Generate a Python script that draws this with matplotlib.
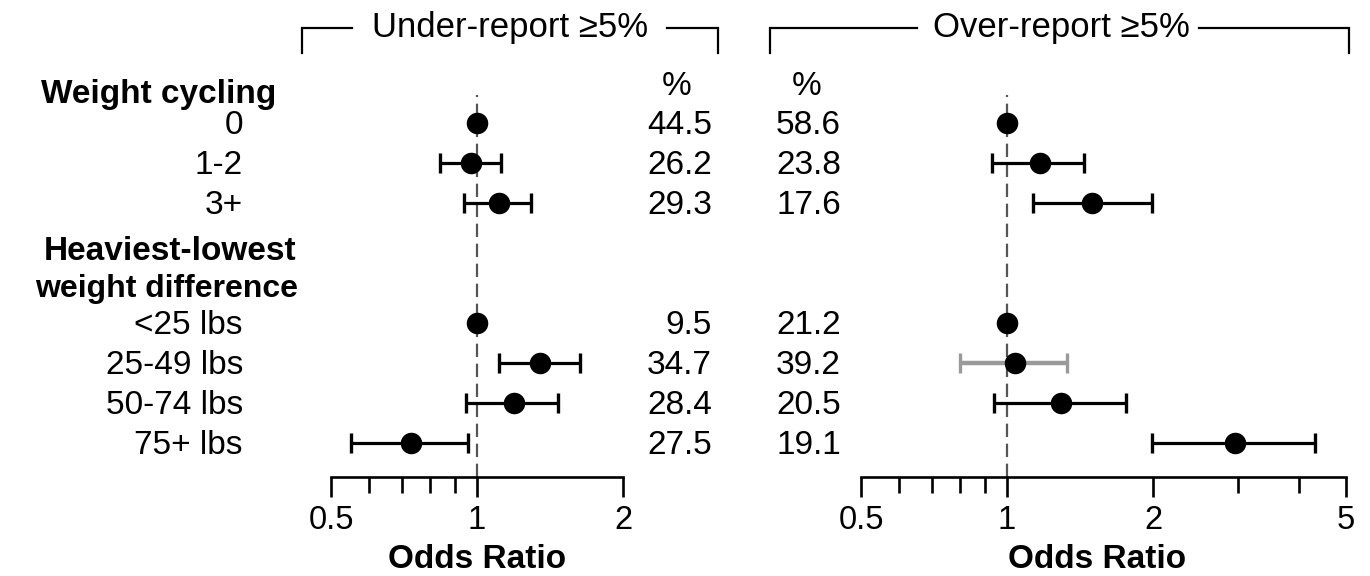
import matplotlib
matplotlib.use("Agg")
import matplotlib.pyplot as plt
import numpy as np
from matplotlib.lines import Line2D

plt.rcParams['font.family'] = ['Liberation Sans', 'DejaVu Sans']

# ---------------- data ----------------
group_titles = ['Weight cycling', 'Heaviest-lowest\nweight difference']
row_labels = ['0', '1-2', '3+', '<25 lbs', '25-49 lbs', '50-74 lbs', '75+ lbs']
row_index = [0, 1, 2, 5, 6, 7, 8]

under_pct = ['44.5', '26.2', '29.3', '9.5', '34.7', '28.4', '27.5']
over_pct = ['58.6', '23.8', '17.6', '21.2', '39.2', '20.5', '19.1']

under_or = [1.00, 0.97, 1.11, 1.00, 1.35, 1.19, 0.73]
under_lo = [np.nan, 0.84, 0.94, np.nan, 1.11, 0.95, 0.55]
under_hi = [np.nan, 1.12, 1.29, np.nan, 1.63, 1.47, 0.96]

over_or = [1.00, 1.17, 1.50, 1.00, 1.04, 1.29, 2.95]
over_lo = [np.nan, 0.93, 1.13, np.nan, 0.80, 0.94, 1.99]
over_hi = [np.nan, 1.44, 1.99, np.nan, 1.33, 1.76, 4.32]

panel_titles = ['Under-report \u22655%', 'Over-report \u22655%']
left_major = [0.5, 1, 2]
left_minor = [0.6, 0.7, 0.8, 0.9]
right_major = [0.5, 1, 2, 5]
right_minor = [0.6, 0.7, 0.8, 0.9, 3, 4]
xlabel = 'Odds Ratio'

# style: which over-report rows have grey CI
over_grey_rows = [4]

# ---------------- layout ----------------
W, H = 1370, 576
fig = plt.figure(figsize=(W / 100, H / 100), dpi=100)

def fx(x):
    return x / W

def fy(y):
    return 1 - y / H

ROW0, ROWSTEP = 123, 40
AX_TOP, AX_BOT = 95, 477

def row_px(r):
    return ROW0 + ROWSTEP * r

ylim = ((AX_BOT - ROW0) / ROWSTEP, (AX_TOP - ROW0) / ROWSTEP)

FS = 24

def make_axis(x0, x1, xmin, xmax, major, minor):
    ax = fig.add_axes([fx(x0), fy(AX_BOT), (x1 - x0) / W, (AX_BOT - AX_TOP) / H])
    ax.set_xscale('log')
    ax.set_xlim(xmin, xmax)
    ax.set_ylim(*ylim)
    for s in ['left', 'right', 'top']:
        ax.spines[s].set_visible(False)
    ax.spines['bottom'].set_linewidth(1.9)
    ax.set_yticks([])
    ax.set_xticks(major)
    ax.set_xticklabels([('%g' % v) for v in major])
    ax.set_xticks(minor, minor=True)
    ax.set_xticklabels([], minor=True)
    ax.tick_params(axis='x', which='major', length=14.5, width=1.9, labelsize=23.5, pad=6)
    ax.tick_params(axis='x', which='minor', length=11.5, width=1.9)
    ax.patch.set_alpha(0)
    ax.axvline(1, color='#555555', lw=1.6, dashes=(6, 3), zorder=1)
    return ax

axL = make_axis(331, 623, 0.5, 2, left_major, left_minor)
axR = make_axis(861, 1346, 0.5, 5, right_major, right_minor)

def draw_points(ax, ors, los, his, grey_rows=()):
    for i, r in enumerate(row_index):
        o, lo, hi = ors[i], los[i], his[i]
        if not np.isnan(lo):
            col = '#9a9a9a' if i in grey_rows else 'black'
            lw = 3.2 if i in grey_rows else 2.3
            ax.errorbar([o], [r], xerr=[[o - lo], [hi - o]], fmt='none',
                        ecolor=col, elinewidth=lw, capsize=7.5, capthick=2.4, zorder=2)
        ax.plot([o], [r], 'o', color='black', ms=14.5, zorder=3)

draw_points(axL, under_or, under_lo, under_hi)
draw_points(axR, over_or, over_lo, over_hi, over_grey_rows)

# row labels
for lab, r in zip(row_labels, row_index):
    fig.text(fx(243), fy(row_px(r) + 11), lab, ha='right', va='baseline', fontsize=FS)

# group headers
fig.text(fx(159), fy(103), group_titles[0], ha='center', va='baseline',
         fontsize=FS, fontweight='bold')
g2 = group_titles[1].split('\n')
fig.text(fx(170), fy(260), g2[0], ha='center', va='baseline', fontsize=FS, fontweight='bold')
fig.text(fx(167), fy(297), g2[1], ha='center', va='baseline', fontsize=23, fontweight='bold')

# percent columns
fig.text(fx(677), fy(95), '%', ha='center', va='baseline', fontsize=FS)
fig.text(fx(807), fy(95), '%', ha='center', va='baseline', fontsize=FS)
for p1, p2, r in zip(under_pct, over_pct, row_index):
    fig.text(fx(712), fy(row_px(r) + 11), p1, ha='right', va='baseline', fontsize=FS)
    fig.text(fx(841), fy(row_px(r) + 11), p2, ha='right', va='baseline', fontsize=FS)

# x labels
fig.text(fx(477), fy(568), xlabel, ha='center', va='baseline', fontsize=FS, fontweight='bold')
fig.text(fx(1097), fy(568), xlabel, ha='center', va='baseline', fontsize=FS, fontweight='bold')

# panel titles with brackets
fig.text(fx(510), fy(37), panel_titles[0], ha='center', va='baseline', fontsize=25)
fig.text(fx(1061), fy(37), panel_titles[1], ha='center', va='baseline', fontsize=25)

def bracket(pts):
    xs = [fx(p[0]) for p in pts]
    ys = [fy(p[1]) for p in pts]
    fig.add_artist(Line2D(xs, ys, color='black', lw=1.6, transform=fig.transFigure,
                          solid_joinstyle='miter'))

bracket([(302, 53), (302, 28), (352, 28)])
bracket([(667, 28), (718, 28), (718, 53)])
bracket([(770, 53), (770, 28), (917, 28)])
bracket([(1199, 28), (1349, 28), (1349, 53)])

fig.savefig('out.png', dpi=100)
